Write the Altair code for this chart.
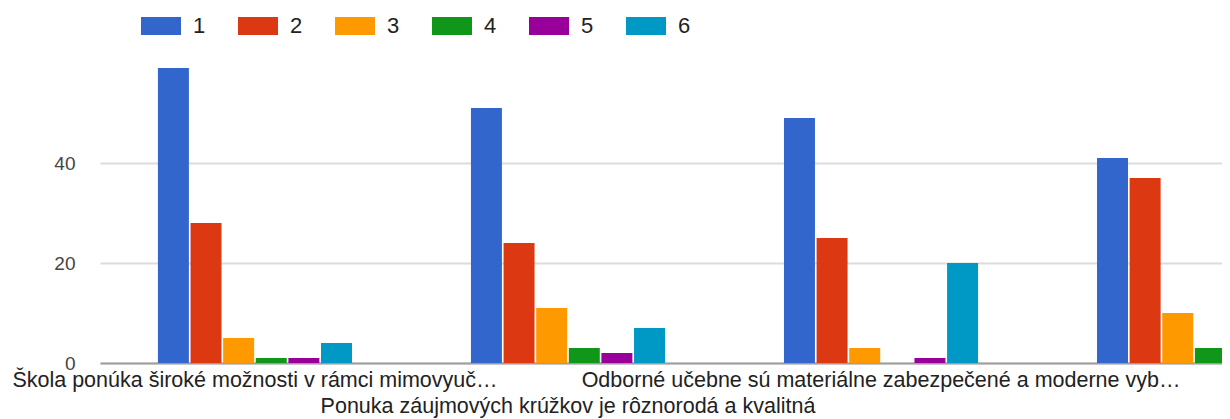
import altair as alt
import pandas as pd

questions = [
    "Škola ponúka široké možnosti v rámci mimovyuč…",
    "Ponuka záujmových krúžkov je rôznorodá a kvalitná",
    "Odborné učebne sú materiálne zabezpečené a moderne vyb…",
    "",
]
label_rows = [0, 1, 0, 1]
answers = ["1", "2", "3", "4", "5", "6"]
counts = [
    [59, 28, 5, 1, 1, 4],
    [51, 24, 11, 3, 2, 7],
    [49, 25, 3, 0, 1, 20],
    [41, 37, 10, 3, 1, 5],
]
colors = ["#3366cc", "#dc3912", "#ff9900", "#109618", "#990099", "#0099c6"]

qkeys = [f"q{i}" for i in range(len(questions))]
rows = []
for qi, q in enumerate(qkeys):
    for ai, a in enumerate(answers):
        rows.append({"q": q, "answer": a, "count": counts[qi][ai]})
df = pd.DataFrame(rows)
lab = pd.DataFrame({"q": qkeys, "label": questions, "row": label_rows})

font = "Liberation Sans"
H = 295
W = 1249

xscale = alt.Scale(domain=qkeys, paddingInner=0.38, paddingOuter=0.185)

bars = alt.Chart(df).mark_bar().encode(
    x=alt.X("q:N", scale=xscale, sort=qkeys,
            axis=alt.Axis(labels=False, ticks=False, title=None, domainColor="#9e9e9e",
                          domainWidth=2, grid=False)),
    xOffset=alt.XOffset("answer:N", scale=alt.Scale(paddingInner=0.05)),
    y=alt.Y("count:Q", scale=alt.Scale(domain=[0, 59], nice=False),
            axis=alt.Axis(values=[0, 20, 40], title=None, domain=False, ticks=False,
                          gridColor="#dcdcdc", gridWidth=2, labelFont=font,
                          labelFontSize=19, labelColor="#444444", labelPadding=25)),
    color=alt.Color("answer:N", scale=alt.Scale(domain=answers, range=colors),
                    legend=alt.Legend(orient="none", direction="horizontal", legendX=41, legendY=-62,
                                      title=None, symbolType="M-1,-0.45H1V0.45H-1Z",
                                      symbolSize=1600, symbolStrokeWidth=0, labelFont=font,
                                      labelFontSize=22, labelColor="#222222", labelOffset=12,
                                      columnPadding=32)),
)

text = alt.Chart(lab).mark_text(font=font, fontSize=21.5, color="#222222", baseline="alphabetic").encode(
    x=alt.X("q:N", scale=xscale, sort=qkeys),
    y=alt.Y("row:Q", scale=alt.Scale(domain=[0, 1], range=[H + 24, H + 50]), axis=None),
    text="label:N",
)

chart = alt.layer(bars, text).resolve_scale(y="independent").properties(
    width=W, height=H,
    autosize=alt.AutoSizeParams(type="none"),
    padding={"left": 92, "top": 60, "right": -127, "bottom": 60},
).configure_view(stroke=None)

chart.save("out.html", embed_options={"renderer": "svg", "actions": False})
